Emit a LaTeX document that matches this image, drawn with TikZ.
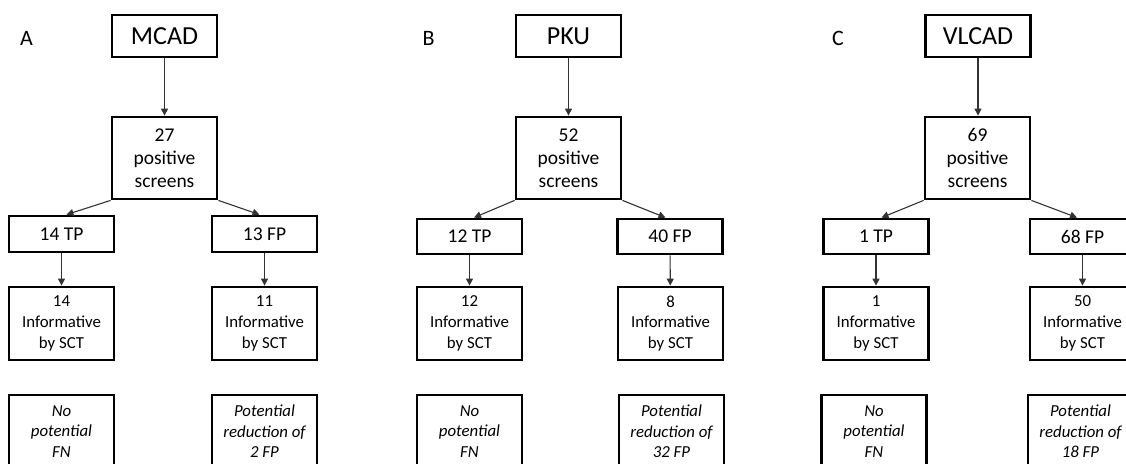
\documentclass[tikz,border=0pt]{standalone}
\usepackage{fontspec}
\setmainfont{Carlito}
\usetikzlibrary{arrows.meta}
\begin{document}
\begin{tikzpicture}[x=1pt,y=-1pt,
  box/.style={draw=black,line width=2.8pt,minimum width=105pt,inner sep=0pt,align=center},
  titlebox/.style={box,minimum height=42pt,font=\fontsize{26}{30}\selectfont},
  posbox/.style={box,minimum height=82pt,font=\fontsize{19.5}{23}\selectfont},
  tpbox/.style={box,minimum height=36pt,font=\fontsize{19.5}{23}\selectfont},
  infbox/.style={box,minimum height=73pt,font=\fontsize{16.8}{20.7}\selectfont},
  resbox/.style={box,minimum height=73pt,font=\fontsize{16.8}{20.5}\selectfont\itshape},
  panel/.style={font=\fontsize{22}{26}\selectfont},
  conn/.style={draw=black!80,line width=1.1pt,-{Triangle[length=7pt,width=7pt]}}]
\useasboundingbox (0,0) rectangle (1126,463);
\clip (0,0) rectangle (1126,463);
% Panel A
\node[panel] (la) at (26.5,38) {A};
\node[titlebox] (ta) at (164.5,36) {MCAD};
\node[posbox] (pa) at (164.5,158) {27\\positive\\screens};
\node[tpbox] (tpa) at (61.5,234) {14 TP};
\node[tpbox] (fpa) at (264.5,234) {13 FP};
\node[infbox] (ia) at (61.5,323.5) {14\\Informative\\by SCT};
\node[infbox] (ja) at (264.5,323.5) {11\\Informative\\by SCT};
\node[resbox] (ra) at (61.5,431.5) {No\\potential\\FN};
\node[resbox] (sa) at (264.5,431.5) {Potential\\reduction of\\2 FP};
\draw[conn] (ta) -- (pa);
\draw[conn] (pa.south west) -- ([xshift=5pt]tpa.north);
\draw[conn] (pa.south east) -- ([xshift=-5pt]fpa.north);
\draw[conn] (tpa) -- (ia);
\draw[conn] (fpa) -- (ja);
% Panel B
\node[panel] (lb) at (428.5,38) {B};
\node[titlebox] (tb) at (568.5,36) {PKU};
\node[posbox] (pb) at (568.5,158) {52\\positive\\screens};
\node[tpbox,minimum height=35pt] (tpb) at (469.5,236.5) {12 TP};
\node[tpbox,minimum height=35pt] (fpb) at (670,236.5) {40 FP};
\node[infbox] (ib) at (469.5,323.5) {12\\Informative\\by SCT};
\node[infbox] (jb) at (670.5,323.5) {8\\Informative\\by SCT};
\node[resbox] (rb) at (469.5,431.5) {No\\potential\\FN};
\node[resbox] (sb) at (671.5,431.5) {Potential\\reduction of\\32 FP};
\draw[conn] (tb) -- (pb);
\draw[conn] (pb.south west) -- ([xshift=4.5pt]tpb.north);
\draw[conn] (pb.south east) -- ([xshift=-4.5pt]fpb.north);
\draw[conn] (tpb) -- (ib);
\draw[conn] (fpb) -- (jb);
% Panel C
\node[panel] (lc) at (838,38) {C};
\node[titlebox] (tc) at (978,36) {VLCAD};
\node[posbox] (pc) at (977.5,158) {69\\positive\\screens};
\node[tpbox,minimum height=35pt] (tpc) at (876,236.5) {1 TP};
\node[tpbox,minimum height=35pt] (fpc) at (1082.5,236.5) {68 FP};
\node[infbox] (ic) at (876,323.5) {1\\Informative\\by SCT};
\node[infbox] (jc) at (1082.5,323.5) {50\\Informative\\by SCT};
\node[resbox] (rc) at (874,431.5) {No\\potential\\FN};
\node[resbox] (sc) at (1080.5,431.5) {Potential\\reduction of\\18 FP};
\draw[conn] (tc.south) -- (tc.south |- pc.north);
\draw[conn] (pc.south west) -- ([xshift=5.5pt]tpc.north);
\draw[conn] (pc.south east) -- ([xshift=-5.5pt]fpc.north);
\draw[conn] (tpc) -- (ic);
\draw[conn] (fpc) -- (jc);
\end{tikzpicture}
\end{document}
